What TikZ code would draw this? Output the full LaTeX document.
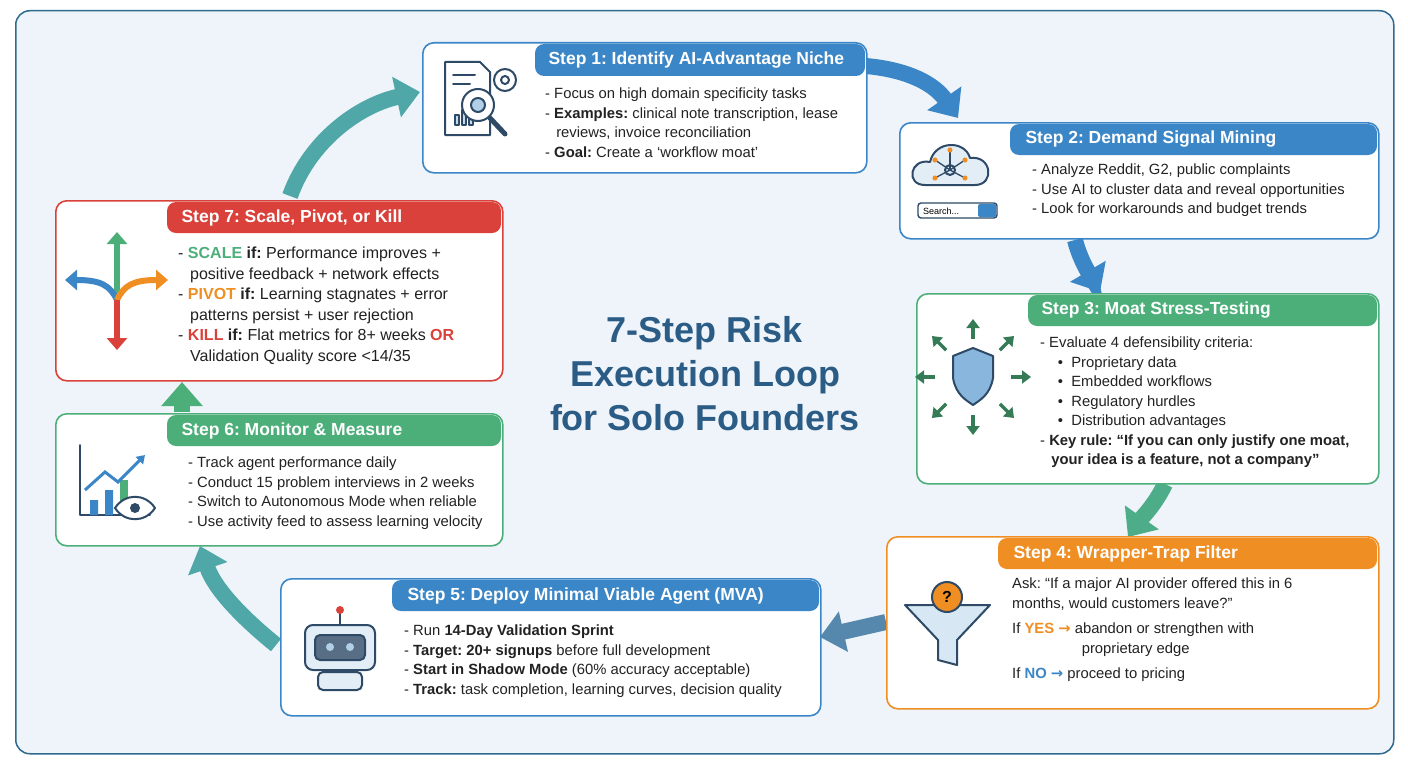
\documentclass[tikz,border=0pt]{standalone}
\usepackage{fontspec}
\setmainfont{Liberation Sans}
\newfontfamily\djv{DejaVu Sans}
\usetikzlibrary{arrows.meta,shapes.geometric,calc}
\definecolor{cblue}{HTML}{3B86C6}
\definecolor{cgreen}{HTML}{4CAF7A}
\definecolor{cred}{HTML}{D9413A}
\definecolor{corange}{HTML}{EF8E22}
\definecolor{ctitle}{HTML}{2B5C86}
\definecolor{cbg}{HTML}{EEF4F9}
\definecolor{cframe}{HTML}{2F6A8F}
\definecolor{ctext}{HTML}{222222}
\definecolor{cteal}{HTML}{4FA7A8}
\definecolor{cicon}{HTML}{2E4A66}
\frenchspacing
\begin{document}
\begin{tikzpicture}[x=1pt,y=-1pt,
 box/.style={draw=#1,line width=1.6pt,fill=white,rounded corners=11pt,anchor=north west},
 hd/.style={text=white,font=\bfseries\fontsize{17.5}{20}\selectfont,anchor=west},
 body/.style={anchor=north west,text=ctext,align=left,font=\fontsize{14.8}{19.5}\selectfont,inner sep=0pt},
 arr/.style={line width=16pt,-{Triangle[length=24pt,width=40pt]}},
 ic/.style={draw=cicon,line width=2pt,line join=round,line cap=round}]
\useasboundingbox (0,0) rectangle (1408,768);
\node[draw=cframe,line width=1.5pt,fill=cbg,rounded corners=14pt,minimum width=1378pt,minimum height=743pt,anchor=north west] (frame) at (15,10) {};

% arrows
\coordinate (a71) at (290,196); \coordinate (a71e) at (420,92);
\draw[arr,color=cteal] (a71) .. controls (310,140) and (360,105) .. (a71e);
\coordinate (a12) at (866,66); \coordinate (a12e) at (958,118);
\draw[arr,color=cblue] (a12) .. controls (910,70) and (935,85) .. (a12e);
\coordinate (a23) at (1075,240); \coordinate (a23e) at (1100,292);
\draw[arr,color=cblue] (a23) .. controls (1080,260) and (1090,275) .. (a23e);
\coordinate (a34) at (1165,484); \coordinate (a34e) at (1128,537);
\draw[arr,color=cgreen!70!cteal] (a34) .. controls (1155,505) and (1140,520) .. (a34e);
\coordinate (a45) at (886,622); \coordinate (a45e) at (820,637);
\draw[arr,color=cblue!85!corange] (a45) -- (a45e);
\coordinate (a56) at (276,645); \coordinate (a56e) at (200,546);
\draw[arr,color=cteal] (a56) .. controls (245,620) and (215,590) .. (a56e);
\coordinate (a67) at (182,412); \coordinate (a67e) at (182,382);
\draw[arr,color=cgreen] (a67) -- (a67e);

% boxes
\node[box=cblue,minimum width=444pt,minimum height=130pt] (b1) at (422,42) {};
\fill[cblue,rounded corners=9pt] (535,44) -- (865,44) -- (865,76) -- (535,76) -- cycle;
\node[hd] (h1) at (545,60) {Step 1: Identify AI-Advantage Niche};
\node[body] (t1) at (545,88) {- Focus on high domain specificity tasks\\- \textbf{Examples:} clinical note transcription, lease\\\hspace*{0.75em}reviews, invoice reconciliation\\- \textbf{Goal:} Create a `workflow moat'};

\node[box=cblue,minimum width=479pt,minimum height=116pt] (b2) at (899,122) {};
\fill[cblue,rounded corners=9pt] (1010,124) -- (1377,124) -- (1377,155) -- (1010,155) -- cycle;
\node[hd] (h2) at (1022,139) {Step 2: Demand Signal Mining};
\node[body] (t2) at (1032,164) {- Analyze Reddit, G2, public complaints\\- Use AI to cluster data and reveal opportunities\\- Look for workarounds and budget trends};

\node[box=cgreen,minimum width=462pt,minimum height=190pt] (b3) at (916,293) {};
\fill[cgreen,rounded corners=9pt] (1028,295) -- (1377,295) -- (1377,326) -- (1028,326) -- cycle;
\node[hd] (h3) at (1038,310) {Step 3: Moat Stress-Testing};
\node[body] (t3) at (1040,337) {- Evaluate 4 defensibility criteria:\\\hspace*{1.2em}\textbullet\ \ Proprietary data\\\hspace*{1.2em}\textbullet\ \ Embedded workflows\\\hspace*{1.2em}\textbullet\ \ Regulatory hurdles\\\hspace*{1.2em}\textbullet\ \ Distribution advantages\\- \textbf{Key rule: ``If you can only justify one moat,}\\\hspace*{0.75em}\textbf{your idea is a feature, not a company''}};

\node[box=corange,minimum width=492pt,minimum height=172pt] (b4) at (886,536) {};
\fill[corange,rounded corners=9pt] (998,538) -- (1377,538) -- (1377,569) -- (998,569) -- cycle;
\node[hd] (h4) at (1010,554) {Step 4: Wrapper-Trap Filter};
\node[body] (t4) at (1012,578) {Ask: ``If a major AI provider offered this in 6\\months, would customers leave?''\\[6pt]If \textbf{\color{corange}YES {\djv →}} abandon or strengthen with\\\hspace*{4.7em}proprietary edge\\[6pt]If \textbf{\color{cblue}NO {\djv →}} proceed to pricing};

\node[box=cblue,minimum width=540pt,minimum height=137pt] (b5) at (280,578) {};
\fill[cblue,rounded corners=9pt] (392,580) -- (819,580) -- (819,611) -- (392,611) -- cycle;
\node[hd] (h5) at (404,596) {Step 5: Deploy Minimal Viable Agent (MVA)};
\node[body] (t5) at (404,625) {- Run \textbf{14-Day Validation Sprint}\\- \textbf{Target: 20+ signups} before full development\\- \textbf{Start in Shadow Mode} (60\% accuracy acceptable)\\- \textbf{Track:} task completion, learning curves, decision quality};

\node[box=cgreen,minimum width=447pt,minimum height=132pt] (b6) at (55,413) {};
\fill[cgreen,rounded corners=9pt] (167,415) -- (501,415) -- (501,446) -- (167,446) -- cycle;
\node[hd] (h6) at (178,431) {Step 6: Monitor \& Measure};
\node[body] (t6) at (188,457) {- Track agent performance daily\\- Conduct 15 problem interviews in 2 weeks\\- Switch to Autonomous Mode when reliable\\- Use activity feed to assess learning velocity};

\node[box=cred,minimum width=447pt,minimum height=180pt] (b7) at (55,200) {};
\fill[cred,rounded corners=9pt] (167,202) -- (501,202) -- (501,233) -- (167,233) -- cycle;
\node[hd] (h7) at (178,218) {Step 7: Scale, Pivot, or Kill};
\node[body,font=\fontsize{16}{20.5}\selectfont] (t7) at (178,247) {- \textbf{\color{cgreen}SCALE} \textbf{if:} Performance improves +\\\hspace*{0.75em}positive feedback + network effects\\- \textbf{\color{corange}PIVOT} \textbf{if:} Learning stagnates + error\\\hspace*{0.75em}patterns persist + user rejection\\- \textbf{\color{cred}KILL} \textbf{if:} Flat metrics for 8+ weeks \textbf{\color{cred}OR}\\\hspace*{0.75em}Validation Quality score <14/35};

% title
\node[text=ctitle,font=\bfseries\fontsize{36}{44}\selectfont,align=center] (title) at (705,374) {7-Step Risk\\Execution Loop\\for Solo Founders};

% icon 1
\draw[ic,fill=white] (445,62) -- (480,62) -- (490,72) -- (490,135) -- (445,135) -- cycle;
\draw[ic] (453,75)--(475,75) (453,84)--(470,84);
\draw[ic,fill=cblue!30] (455,125) rectangle (459,115) (462,125) rectangle (466,110) (469,125) rectangle (473,118);
\draw[ic,fill=white] (505,80) circle (11pt); \draw[ic] (505,80) circle (4pt);
\draw[ic,fill=white] (478,105) circle (16pt); \draw[ic,fill=cblue!40] (478,105) circle (7pt);
\draw[ic,line width=5pt] (490,118) -- (505,134);
% icon 2
\draw[ic,fill=cblue!15] (925,185) .. controls (905,185) and (910,158) .. (930,162) .. controls (935,140) and (965,140) .. (970,158) .. controls (992,155) and (995,185) .. (975,185) -- cycle;
\draw[ic] (950,170) circle (5pt);
\foreach \a/\b in {935/160,965/160,935/178,965/178,950/150} \draw[ic,line width=1.3pt] (950,170)--(\a,\b) node[circle,fill=corange,inner sep=1.8pt]{};
\draw[ic,line width=1.4pt,rounded corners=3pt,fill=white] (918,203) rectangle (997,218);
\node[font=\fontsize{9}{10}\selectfont,anchor=west,inner sep=0] (srch) at (923,211) {Search...};
\fill[cblue,rounded corners=2pt] (978,204) rectangle (996,217);
% icon 3
\draw[ic,fill=cblue!60] (973,348) -- (993,356) -- (993,378) .. controls (990,395) and (980,400) .. (973,405) .. controls (966,400) and (956,395) .. (953,378) -- (953,356) -- cycle;
\foreach \ang in {0,45,...,315} \draw[draw=cgreen!70!black,line width=3.5pt,-{Triangle[length=9pt,width=13pt]}] ($(973,377)+(\ang:38pt)$) -- ($(973,377)+(\ang:58pt)$);
% icon 4
\draw[ic,fill=cblue!20] (905,605) -- (990,605) -- (957,640) -- (957,665) -- (938,660) -- (938,640) -- cycle;
\draw[ic,fill=corange] (947,597) circle (15pt);
\node[font=\bfseries\fontsize{16}{16}\selectfont] (q) at (947,597) {?};
% icon 5
\draw[ic,fill=cblue!15,rounded corners=8pt] (305,625) rectangle (375,670);
\draw[ic,fill=cicon!80,rounded corners=5pt] (315,635) rectangle (365,660);
\fill[cblue!40] (330,647) circle (4pt) (350,647) circle (4pt);
\draw[ic] (340,625)--(340,612); \fill[cred] (340,610) circle (4pt);
\draw[ic,fill=cblue!15,rounded corners=5pt] (318,672) rectangle (362,690);
% icon 6
\draw[ic] (80,445) -- (80,515) -- (150,515);
\fill[cblue] (90,500) rectangle (98,515) (105,490) rectangle (113,515);
\fill[cgreen] (120,480) rectangle (128,515);
\draw[cblue,line width=3pt,-{Triangle[length=8pt,width=10pt]}] (85,490) -- (105,472) -- (118,482) -- (145,455);
\draw[ic,fill=white] (115,508) .. controls (125,493) and (145,493) .. (155,508) .. controls (145,523) and (125,523) .. cycle;
\fill[cicon] (135,508) circle (5pt);
% icon 7
\draw[cgreen,line width=6pt,-{Triangle[length=12pt,width=20pt]}] (117,320) -- (117,232);
\draw[cblue,line width=6pt,-{Triangle[length=12pt,width=20pt]}] (117,300) .. controls (110,285) and (100,280) .. (65,280);
\draw[corange,line width=6pt,-{Triangle[length=12pt,width=20pt]}] (117,300) .. controls (124,285) and (134,280) .. (168,280);
\draw[cred,line width=6pt,-{Triangle[length=12pt,width=20pt]}] (117,300) -- (117,350);
\end{tikzpicture}
\end{document}
